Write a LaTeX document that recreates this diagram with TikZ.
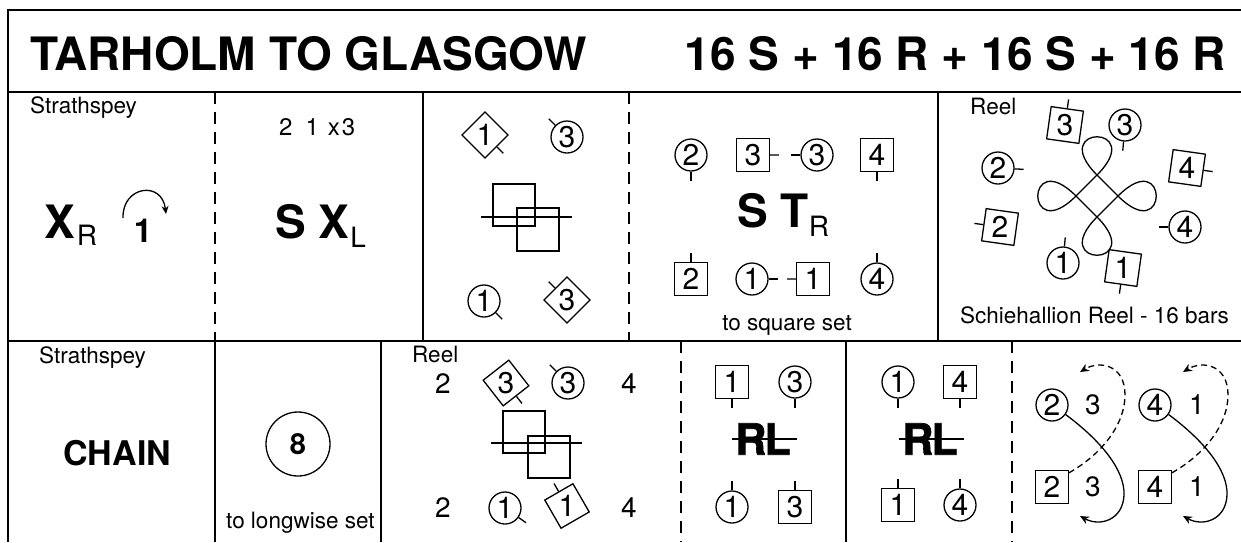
\documentclass[tikz,border=0pt]{standalone}
\usepackage{fontspec}
\setmainfont{TeX Gyre Heros}
\newfontface\rlfont[FakeBold=1.6]{texgyreheros-bold.otf}
\usetikzlibrary{shapes.geometric,arrows.meta,calc}
\newcommand{\fsz}[1]{\fontsize{#1}{#1}\selectfont}
\newcommand{\nose}[2]{\draw[sym] (#1.#2) -- ($(#1.#2)!-9pt!(#1.center)$);}
\begin{document}
\begin{tikzpicture}[x=1pt,y=-1pt,
  cellline/.style={line width=1.6pt},
  celldash/.style={line width=1.6pt, dash pattern=on 12pt off 8pt},
  sym/.style={line width=1.3pt},
  lady/.style={circle, draw, line width=1.3pt, minimum size=32pt, inner sep=0pt, font=\fsz{30}},
  man/.style={regular polygon, regular polygon sides=4, draw, line width=1.3pt, minimum size=46pt, inner sep=0pt, font=\fsz{30}},
  num/.style={inner sep=0pt, font=\fsz{28}},
  note/.style={inner sep=0pt, font=\fsz{22.5}},
  bigtext/.style={inner sep=0pt, font=\fsz{46}\bfseries},
  tip/.style={-{Stealth[length=9pt,width=8pt]}}]
\useasboundingbox (0,0) rectangle (1241,542);
% Frame
\draw[cellline] (1241,10) -- (8,10) -- (8,542);
\draw[cellline] (8,92) -- (1241,92);
\draw[cellline] (8,341) -- (1241,341);
\draw[celldash] (215,92) -- (215,341);
\draw[cellline] (423,92) -- (423,341);
\draw[celldash] (629,92) -- (629,341);
\draw[cellline] (938,92) -- (938,341);
\draw[cellline] (215,341) -- (215,542);
\draw[cellline] (381,341) -- (381,542);
\draw[celldash] (681,341) -- (681,542);
\draw[cellline] (846,341) -- (846,542);
\draw[celldash] (1012,341) -- (1012,542);
% Title
\node[bigtext, anchor=base west] (title) at (30,70) {TARHOLM TO GLASGOW};
\node[bigtext, anchor=base east] (bars) at (1226,70) {16 S + 16 R + 16 S + 16 R};
% Bars 1-4
\node[note, anchor=base west] (strA) at (30,113) {Strathspey};
\node[inner sep=0pt, anchor=base west] (xr) at (44,238) {\fsz{46}\bfseries X\kern2pt\fsz{28}\mdseries\raisebox{-7pt}{R}};
\node[inner sep=0pt, anchor=base] (one) at (143,242) {\fsz{33}\bfseries 1};
\draw[sym, -{Stealth[length=8pt,width=7pt]}] (123,218) .. controls (122,186) and (162,180) .. (166,214);
% Bars 5-8
\node[inner sep=0pt, anchor=base west] (order) at (279,135) {\fsz{24}2\kern13pt 1\kern9pt x\kern2pt 3};
\node[inner sep=0pt, anchor=base west] (sxl) at (275,238) {\fsz{46}\bfseries S X\kern1pt\fsz{28}\mdseries\raisebox{-9pt}{L}};
% Bars 9-12
\node[man, regular polygon rotate=45] (d1) at (485,135) {1};
\node[lady] (c3) at (567,137) {3};
\node[lady] (c1) at (484,301) {1};
\node[man, regular polygon rotate=45] (d3) at (567,300) {3};
\nose{d1}{-45} \nose{c3}{135} \nose{c1}{-45} \nose{d3}{135}
\draw[sym] (493,184) rectangle (535,226);
\draw[sym] (517,208) rectangle (559,251);
\draw[sym] (481,217) -- (572,217);
% Bars 13-16
\node[lady] (c2) at (691,155) {2};
\node[man] (s3) at (753,155) {3};
\node[lady] (c3b) at (817,155) {3};
\node[man] (s4) at (877,155) {4};
\node[man] (s2) at (691,279) {2};
\node[lady] (c1b) at (752,279) {1};
\node[man] (s1) at (813,279) {1};
\node[lady] (c4) at (877,279) {4};
\nose{c2}{-90} \nose{s3}{0} \nose{c3b}{180} \nose{s4}{-90}
\nose{s2}{90} \nose{c1b}{0} \nose{s1}{180} \nose{c4}{90}
\node[inner sep=0pt, anchor=base west] (stR) at (737,227) {\fsz{46}\bfseries S T\fsz{28}\mdseries\raisebox{-9pt}{R}};
\node[note, anchor=base] (sqset) at (787,330) {to square set};
% Schiehallion reel
\node[note, anchor=base west] (reelA) at (970,114) {Reel};
\node[man, regular polygon rotate=-8] (s3e) at (1065,125) {3};
\node[lady] (c3e) at (1125,125) {3};
\node[lady] (c2e) at (998,168) {2};
\node[man, regular polygon rotate=-8] (s4e) at (1187,168) {4};
\node[man, regular polygon rotate=-8] (s2e) at (1000,227) {2};
\node[lady] (c4e) at (1185,227) {4};
\node[lady] (c1e) at (1063,263) {1};
\node[man, regular polygon rotate=-8] (s1e) at (1123,268) {1};
\nose{s3e}{82} \nose{c3e}{-95} \nose{c2e}{-3} \nose{s4e}{-8}
\nose{s2e}{172} \nose{c4e}{180} \nose{c1e}{85} \nose{s1e}{-98}
\coordinate (kT) at (1097,175);
\coordinate (kR) at (1118,196);
\coordinate (kB) at (1097,217);
\coordinate (kL) at (1076,196);
\draw[sym] (kT) -- (kR) .. controls +(51,51) and +(51,-51) .. (kR)
  -- (kB) .. controls +(-51,51) and +(51,51) .. (kB)
  -- (kL) .. controls +(-51,-51) and +(-51,51) .. (kL)
  -- (kT) .. controls +(51,-51) and +(-51,-51) .. (kT);
\node[note, anchor=base west] (schie) at (960,323) {Schiehallion Reel - 16 bars};
% Bars 17-24
\node[note, anchor=base west] (strB) at (39,363) {Strathspey};
\node[inner sep=0pt, anchor=base west] (chain) at (63,465) {\fsz{34}\bfseries CHAIN};
\node[circle, draw, sym, minimum size=64pt, inner sep=0pt] (eight) at (298,444) {\fsz{29}\bfseries 8};
\node[note, anchor=base west] (lwset) at (226,528) {to longwise set};
% Reel
\node[note, anchor=base west] (reelB) at (412,362) {Reel};
\node[num] (n2a) at (443,384) {2};
\node[num] (n4a) at (629,384) {4};
\node[num] (n2b) at (443,508) {2};
\node[num] (n4b) at (629,508) {4};
\node[man, regular polygon rotate=38] (dia3) at (506,383) {3};
\node[lady] (c3r) at (568,383) {3};
\node[lady] (c1r) at (505,508) {1};
\node[man, regular polygon rotate=30] (dia1) at (567,506) {1};
\nose{dia3}{-52} \nose{c3r}{135} \nose{c1r}{-35} \nose{dia1}{120}
\draw[sym] (503,411) rectangle (545,453);
\draw[sym] (528,436) rectangle (570,478);
\draw[sym] (491,443) -- (582,443);
% Rights and lefts
\node[man] (s1r) at (732,382) {1};
\node[lady] (c3s) at (795,382) {3};
\node[lady] (c1s) at (732,507) {1};
\node[man] (s3s) at (795,507) {3};
\nose{s1r}{-90} \nose{c3s}{-90} \nose{c1s}{90} \nose{s3s}{90}
\node[inner sep=0pt, font=\fsz{43}\rlfont] (rl1) at (763,439) {R\kern-2pt L};
\draw[line width=1.8pt] ([xshift=-3pt]rl1.west) -- ([xshift=6pt]rl1.east);
\node[lady] (c1t) at (898,382) {1};
\node[man] (s4t) at (960,382) {4};
\node[man] (s1t) at (898,505) {1};
\node[lady] (c4t) at (960,505) {4};
\nose{c1t}{-90} \nose{s4t}{-90} \nose{s1t}{90} \nose{c4t}{90}
\node[inner sep=0pt, font=\fsz{43}\rlfont] (rl2) at (930,439) {R\kern-2pt L};
\draw[line width=1.8pt] ([xshift=-3pt]rl2.west) -- ([xshift=6pt]rl2.east);
% Casts
\node[lady] (c2l) at (1052,405) {2};
\node[num] (n3a) at (1093,405) {3};
\node[man] (s2l) at (1052,487) {2};
\node[num] (n3b) at (1093,487) {3};
\node[lady] (c4l) at (1155,405) {4};
\node[num] (n1a) at (1197,405) {1};
\node[man] (s4l) at (1155,487) {4};
\node[num] (n1b) at (1197,487) {1};
\draw[sym, tip] (c2l.-35) .. controls +(35,26) and +(1,-25) .. ($(c2l)+(72,90)$)
  .. controls +(-1,25) and +(20,11) .. ($(c2l)+(28,111)$);
\draw[sym, tip, dash pattern=on 6pt off 4pt] (s2l.40) .. controls +(32,-18) and +(0,30) .. ($(c2l)+(73,-10)$)
  .. controls +(0,-30) and +(20,-12) .. ($(c2l)+(28,-33)$);
\draw[sym, tip] (c4l.-35) .. controls +(35,26) and +(1,-25) .. ($(c4l)+(72,90)$)
  .. controls +(-1,25) and +(20,11) .. ($(c4l)+(28,111)$);
\draw[sym, tip, dash pattern=on 6pt off 4pt] (s4l.40) .. controls +(32,-18) and +(0,30) .. ($(c4l)+(73,-10)$)
  .. controls +(0,-30) and +(20,-12) .. ($(c4l)+(28,-33)$);
\end{tikzpicture}
\end{document}
